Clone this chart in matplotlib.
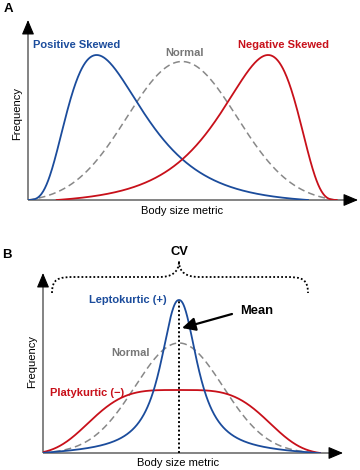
import numpy as np
import matplotlib
matplotlib.use("Agg")
import matplotlib.pyplot as plt
from matplotlib.path import Path
from matplotlib.patches import PathPatch

plt.rcParams['font.family'] = ['Liberation Sans', 'DejaVu Sans']

# ---------------- data (conceptual curve parameters, in axis units) ----------------
# Panel A: skewness
A_LABELS = ["Positive Skewed", "Normal", "Negative Skewed"]
A_COLORS = ["#1b4c9c", "#888888", "#c8101a"]
A_TEXTCOLORS = ["#1b4c9c", "#777777", "#c8101a"]
A_START = [0.0, 0.0, 28.7]
A_END = [280.0, 308.0, 308.7]
A_PEAK_X = [68.7, 154.0, 240.0]
A_PEAK_H = [145.0, 138.5, 145.0]
A_SKEW_SHIFT = 12.0      # log-shape offset for the skewed curves
A_SKEW_WIDTH = 0.46      # log-scale spread of the skewed curves
A_NORMAL_SD = 55.0

# Panel B: kurtosis
B_LABELS = ["Leptokurtic (+)", "Normal", "Platykurtic (\u2212)"]
B_COLORS = ["#1b4c9c", "#888888", "#c8101a"]
B_TEXTCOLORS = ["#1b4c9c", "#777777", "#c8101a"]
B_START = 0.0
B_END = 277.0
B_CENTER = 136.0
B_PEAK_H = [153.0, 110.0, 63.0]
B_LEPTO_SCALE = 21.5
B_LEPTO_POWER = 2.2
B_LEPTO_TAPER = 4.0
B_NORMAL_SD = 44.0
B_PLATY_SCALE = 99.0
B_PLATY_POWER = 3.8

AXIS_LABEL_X = "Body size metric"
AXIS_LABEL_Y = "Frequency"


def baseline_shape(raw, peak):
    end = min(raw[0], raw[-1])
    return (raw - end) / (raw.max() - end) * peak


fig = plt.figure(figsize=(3.6, 4.7), dpi=100)

AXIS_GRAY = "#6e6e6e"


def draw_axes(ax, xtip, ytip):
    ax.plot([0, xtip - 8], [0, 0], color=AXIS_GRAY, lw=1.2, clip_on=False, solid_capstyle='butt')
    ax.plot([0, 0], [0, ytip - 8], color=AXIS_GRAY, lw=1.2, clip_on=False, solid_capstyle='butt')
    for xy, xyt in [((xtip, 0), (xtip - 12, 0)), ((0, ytip), (0, ytip - 12))]:
        ax.annotate('', xy=xy, xytext=xyt, annotation_clip=False,
                    arrowprops=dict(arrowstyle='-|>,head_length=0.9,head_width=0.38',
                                    color='black', lw=0.8, mutation_scale=10,
                                    shrinkA=0, shrinkB=0))


# ---------------- Panel A ----------------
axA = fig.add_axes([28 / 360, (470 - 200) / 470, 330 / 360, 180 / 470])
axA.set_xlim(0, 330)
axA.set_ylim(0, 180)
axA.axis('off')
draw_axes(axA, 330, 180)

# positive skew (log-shaped), then its mirror for negative skew
xs = np.linspace(A_START[0], A_END[0], 500)
raw = np.exp(-np.log((xs + A_SKEW_SHIFT) / (A_PEAK_X[0] + A_SKEW_SHIFT)) ** 2 / (2 * A_SKEW_WIDTH ** 2))
raw = raw - raw[0] - (raw[-1] - raw[0]) * (xs - xs[0]) / (xs[-1] - xs[0])
ys_pos = raw / raw.max() * A_PEAK_H[0]

xn = np.linspace(A_START[1], A_END[1], 500)
rawn = np.exp(-(xn - A_PEAK_X[1]) ** 2 / (2 * A_NORMAL_SD ** 2))
ys_norm = baseline_shape(rawn, A_PEAK_H[1])

xneg = A_END[2] - xs
ys_neg = ys_pos / A_PEAK_H[0] * A_PEAK_H[2]

axA.plot(xn, ys_norm, color=A_COLORS[1], lw=1.1, dashes=(4.5, 2.6))
axA.plot(xs, ys_pos, color=A_COLORS[0], lw=1.3)
axA.plot(xneg, ys_neg, color=A_COLORS[2], lw=1.3)

axA.text(48.5, 155, A_LABELS[0], color=A_TEXTCOLORS[0], fontsize=8, fontweight='bold', ha='center', va='center')
axA.text(156, 147, A_LABELS[1], color=A_TEXTCOLORS[1], fontsize=8, fontweight='bold', ha='center', va='center')
axA.text(256, 155, A_LABELS[2], color=A_TEXTCOLORS[2], fontsize=8, fontweight='bold', ha='center', va='center')
axA.text(-11, 87, AXIS_LABEL_Y, fontsize=8, rotation=90, ha='center', va='center', clip_on=False)
axA.text(154, -11, AXIS_LABEL_X, fontsize=8, ha='center', va='center', clip_on=False)
axA.text(-20, 191, "A", fontsize=9.5, fontweight='bold', ha='center', va='center', clip_on=False)

# ---------------- Panel B ----------------
axB = fig.add_axes([43 / 360, (470 - 453) / 470, 300 / 360, 180 / 470])
axB.set_xlim(0, 300)
axB.set_ylim(0, 180)
axB.axis('off')
draw_axes(axB, 300, 180)

xb = np.linspace(B_START, B_END, 600)
d = xb - B_CENTER
half = (B_END - B_START) / 2
lepto_raw = (1 / (1 + np.abs(d / B_LEPTO_SCALE) ** B_LEPTO_POWER)
             * (1 - np.abs(d / half) ** B_LEPTO_TAPER))
lepto = lepto_raw / lepto_raw.max() * B_PEAK_H[0]
normb = baseline_shape(np.exp(-d ** 2 / (2 * B_NORMAL_SD ** 2)), B_PEAK_H[1])
platy = baseline_shape(np.exp(-np.abs(d / B_PLATY_SCALE) ** B_PLATY_POWER), B_PEAK_H[2])

axB.plot(xb, normb, color=B_COLORS[1], lw=1.1, dashes=(4.5, 2.6))
axB.plot(xb, platy, color=B_COLORS[2], lw=1.3)
axB.plot(xb, lepto, color=B_COLORS[0], lw=1.3)

# mean line
axB.plot([B_CENTER, B_CENTER], [0, B_PEAK_H[0]], color='black', lw=1.4, linestyle=(0, (1, 1.2)))

# CV brace (dotted)
L, R, Yb, Ye, Yt = 9.0, 265.0, 176.0, 160.0, 192.0
c = B_CENTER
verts = [(L, Ye), (L, Yb - 2), (L + 6, Yb), (L + 22, Yb),
         (c - 20, Yb), (c - 8, Yb), (c, Yb + 4), (c, Yt),
         (c, Yb + 4), (c + 8, Yb), (c + 20, Yb),
         (R - 22, Yb), (R - 6, Yb), (R, Yb - 2), (R, Ye)]
codes = [Path.MOVETO, Path.CURVE4, Path.CURVE4, Path.CURVE4,
         Path.LINETO, Path.CURVE4, Path.CURVE4, Path.CURVE4,
         Path.CURVE4, Path.CURVE4, Path.CURVE4,
         Path.LINETO, Path.CURVE4, Path.CURVE4, Path.CURVE4]
axB.add_patch(PathPatch(Path(verts, codes), fill=False, lw=1.3, linestyle=(0, (1, 1.2)),
                        edgecolor='black', clip_on=False))

axB.text(c, 201, "CV", fontsize=9.3, fontweight='bold', ha='center', va='center', clip_on=False)
axB.text(85, 153, B_LABELS[0], color=B_TEXTCOLORS[0], fontsize=8, fontweight='bold', ha='center', va='center')
axB.text(87, 100, B_LABELS[1], color=B_TEXTCOLORS[1], fontsize=8, fontweight='bold', ha='center', va='center')
axB.text(44, 60, B_LABELS[2], color=B_TEXTCOLORS[2], fontsize=8, fontweight='bold', ha='center', va='center')
axB.text(214, 142, "Mean", fontsize=9.3, fontweight='bold', ha='center', va='center', clip_on=False)
axB.annotate('', xy=(c + 3, 125), xytext=(189, 139),
             arrowprops=dict(arrowstyle='-|>,head_length=0.8,head_width=0.4', color='black',
                             lw=1.6, mutation_scale=10, shrinkA=0, shrinkB=0))
axB.text(-11, 91, AXIS_LABEL_Y, fontsize=8, rotation=90, ha='center', va='center', clip_on=False)
axB.text(135, -10, AXIS_LABEL_X, fontsize=8, ha='center', va='center', clip_on=False)
axB.text(-36, 198, "B", fontsize=9.5, fontweight='bold', ha='center', va='center', clip_on=False)

fig.savefig("out.png", dpi=100)
